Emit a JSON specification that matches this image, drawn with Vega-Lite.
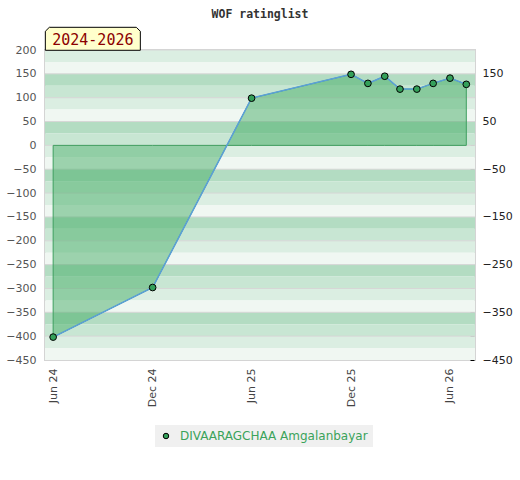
{
  "$schema": "https://vega.github.io/schema/vega-lite/v6.json",
  "width": 430,
  "height": 310,
  "autosize": {"type": "none"},
  "padding": {"left": 45, "top": 50, "right": 45, "bottom": 120},
  "background": "white",
  "config": {
    "view": {"stroke": "#d4d4d4", "strokeWidth": 2},
    "font": "DejaVu Sans"
  },
  "title": {
    "text": "WOF ratinglist",
    "font": "DejaVu Sans Mono",
    "fontWeight": "bold",
    "fontSize": 11.5,
    "color": "#333333",
    "anchor": "middle",
    "frame": "group",
    "offset": 5
  },
  "datasets": {
    "stripes": [
      {"hi": 200, "lo": 175, "shade": "a"},
      {"hi": 175, "lo": 150, "shade": "b"},
      {"hi": 150, "lo": 125, "shade": "c"},
      {"hi": 125, "lo": 100, "shade": "d"},
      {"hi": 100, "lo": 75, "shade": "a"},
      {"hi": 75, "lo": 50, "shade": "b"},
      {"hi": 50, "lo": 25, "shade": "c"},
      {"hi": 25, "lo": 0, "shade": "d"},
      {"hi": 0, "lo": -25, "shade": "a"},
      {"hi": -25, "lo": -50, "shade": "b"},
      {"hi": -50, "lo": -75, "shade": "c"},
      {"hi": -75, "lo": -100, "shade": "d"},
      {"hi": -100, "lo": -125, "shade": "a"},
      {"hi": -125, "lo": -150, "shade": "b"},
      {"hi": -150, "lo": -175, "shade": "c"},
      {"hi": -175, "lo": -200, "shade": "d"},
      {"hi": -200, "lo": -225, "shade": "a"},
      {"hi": -225, "lo": -250, "shade": "b"},
      {"hi": -250, "lo": -275, "shade": "c"},
      {"hi": -275, "lo": -300, "shade": "d"},
      {"hi": -300, "lo": -325, "shade": "a"},
      {"hi": -325, "lo": -350, "shade": "b"},
      {"hi": -350, "lo": -375, "shade": "c"},
      {"hi": -375, "lo": -400, "shade": "d"},
      {"hi": -400, "lo": -425, "shade": "a"},
      {"hi": -425, "lo": -450, "shade": "b"}
    ],
    "ratings": [
      {"date": "2024-06-01T00:00:00", "rating": -402, "player": "DIVAARAGCHAA Amgalanbayar"},
      {"date": "2024-12-01T00:00:00", "rating": -298, "player": "DIVAARAGCHAA Amgalanbayar"},
      {"date": "2025-06-01T00:00:00", "rating": 99, "player": "DIVAARAGCHAA Amgalanbayar"},
      {"date": "2025-12-01T00:00:00", "rating": 149, "player": "DIVAARAGCHAA Amgalanbayar"},
      {"date": "2026-01-01T00:00:00", "rating": 130, "player": "DIVAARAGCHAA Amgalanbayar"},
      {"date": "2026-02-01T00:00:00", "rating": 145, "player": "DIVAARAGCHAA Amgalanbayar"},
      {"date": "2026-03-01T00:00:00", "rating": 118, "player": "DIVAARAGCHAA Amgalanbayar"},
      {"date": "2026-04-01T00:00:00", "rating": 118, "player": "DIVAARAGCHAA Amgalanbayar"},
      {"date": "2026-05-01T00:00:00", "rating": 130, "player": "DIVAARAGCHAA Amgalanbayar"},
      {"date": "2026-06-01T00:00:00", "rating": 141, "player": "DIVAARAGCHAA Amgalanbayar"},
      {"date": "2026-07-01T00:00:00", "rating": 128, "player": "DIVAARAGCHAA Amgalanbayar"}
    ],
    "period": [{"label": "2024-2026"}]
  },
  "resolve": {"axis": {"y": "independent", "x": "independent"}},
  "layer": [
    {
      "data": {"name": "stripes"},
      "mark": {"type": "rect"},
      "encoding": {
        "y": {
          "field": "lo", "type": "quantitative",
          "scale": {"domain": [-450, 200], "nice": false, "zero": false},
          "axis": {
            "orient": "left",
            "values": [200, 150, 100, 50, 0, -50, -100, -150, -200, -250, -300, -350, -400, -450],
            "title": null, "grid": false, "ticks": false, "domain": false,
            "labelPadding": 9, "labelFontSize": 11, "labelColor": "#555555",
            "labelFont": "DejaVu Sans"
          }
        },
        "y2": {"field": "hi"},
        "fill": {
          "field": "shade", "type": "nominal", "legend": null,
          "scale": {"domain": ["a", "b", "c", "d"], "range": ["#dbeee2", "#f0f7f2", "#b3dcc2", "#c8e6d3"]}
        }
      }
    },
    {
      "data": {"name": "stripes"},
      "transform": [{"filter": {"field": "shade", "oneOf": ["a", "c"]}}],
      "mark": {"type": "rule", "color": "#d6d6d6", "strokeWidth": 1},
      "encoding": {
        "y": {
          "field": "hi", "type": "quantitative",
          "scale": {"domain": [-450, 200], "nice": false, "zero": false},
          "axis": {
            "orient": "right",
            "values": [150, 100, 50, 0, -50, -100, -150, -200, -250, -300, -350, -400, -450],
            "labelExpr": "(datum.value + 450) % 100 == 0 ? datum.label : ''",
            "title": null, "grid": false, "domain": false,
            "ticks": true, "tickColor": "#000000", "tickSize": 4, "offset": -5,
            "labelPadding": 8, "labelFontSize": 11, "labelColor": "#222222",
            "labelFont": "DejaVu Sans"
          }
        }
      }
    },
    {
      "data": {"name": "ratings"},
      "encoding": {
        "x": {
          "field": "date", "type": "temporal",
          "scale": {"domain": [{"year": 2024, "month": 5, "date": 17}, {"year": 2026, "month": 7, "date": 17}]},
          "axis": {
            "orient": "bottom",
            "values": [
              {"year": 2024, "month": 6, "date": 1},
              {"year": 2024, "month": 12, "date": 1},
              {"year": 2025, "month": 6, "date": 1},
              {"year": 2025, "month": 12, "date": 1},
              {"year": 2026, "month": 6, "date": 1}
            ],
            "format": "%b %y", "labelAngle": -90, "title": null,
            "grid": false, "ticks": false, "domain": false,
            "labelPadding": 8, "labelFontSize": 11, "labelColor": "#444444",
            "labelFont": "DejaVu Sans"
          }
        },
        "y": {
          "field": "rating", "type": "quantitative",
          "scale": {"domain": [-450, 200], "nice": false, "zero": false},
          "axis": null
        }
      },
      "layer": [
        {
          "mark": {"type": "area", "fill": "#47ae68", "fillOpacity": 0.5, "stroke": "#3f9f5f", "strokeWidth": 1},
          "encoding": {"y2": {"datum": 0}}
        },
        {
          "mark": {"type": "line", "color": "#5b9fd9", "strokeWidth": 1.5}
        },
        {
          "mark": {"type": "point", "filled": true, "size": 45, "stroke": "#000000", "strokeWidth": 1, "opacity": 1},
          "encoding": {
            "color": {
              "field": "player", "type": "nominal",
              "scale": {"domain": ["DIVAARAGCHAA Amgalanbayar"], "range": ["#34a05a"]},
              "legend": {
                "title": null, "orient": "none", "legendX": 110, "legendY": 375,
                "direction": "horizontal",
                "fillColor": "#f0f0f0", "padding": 5,
                "symbolType": "circle", "symbolSize": 30,
                "symbolStrokeColor": "#000000", "symbolStrokeWidth": 1,
                "labelColor": "#3aa35a", "labelFontSize": 12, "labelFont": "DejaVu Sans",
                "labelLimit": 400, "labelOffset": 8
              }
            }
          }
        }
      ]
    },
    {
      "data": {"name": "period"},
      "encoding": {
        "x": {
          "datum": {"year": 2024, "month": 8, "date": 13}, "type": "temporal",
          "scale": {"domain": [{"year": 2024, "month": 5, "date": 17}, {"year": 2026, "month": 7, "date": 17}]},
          "axis": null
        }
      },
      "layer": [
        {
          "mark": {
            "type": "point", "filled": true, "size": 9025,
            "shape": "M-1,0.242L-1,-0.158L-0.916,-0.242L0.916,-0.242L1,-0.158L1,0.242Z",
            "fill": "#ffffcc", "stroke": "#000000", "strokeWidth": 1, "opacity": 1
          },
          "encoding": {
            "y": {"datum": 223.5, "type": "quantitative", "scale": {"domain": [-450, 200], "nice": false, "zero": false}, "axis": null}
          }
        },
        {
          "mark": {"type": "text", "font": "DejaVu Sans Mono", "fontSize": 15, "color": "#8b0000", "align": "center", "baseline": "middle"},
          "encoding": {
            "y": {"datum": 221.5, "type": "quantitative", "scale": {"domain": [-450, 200], "nice": false, "zero": false}, "axis": null},
            "text": {"field": "label"}
          }
        }
      ]
    }
  ]
}
